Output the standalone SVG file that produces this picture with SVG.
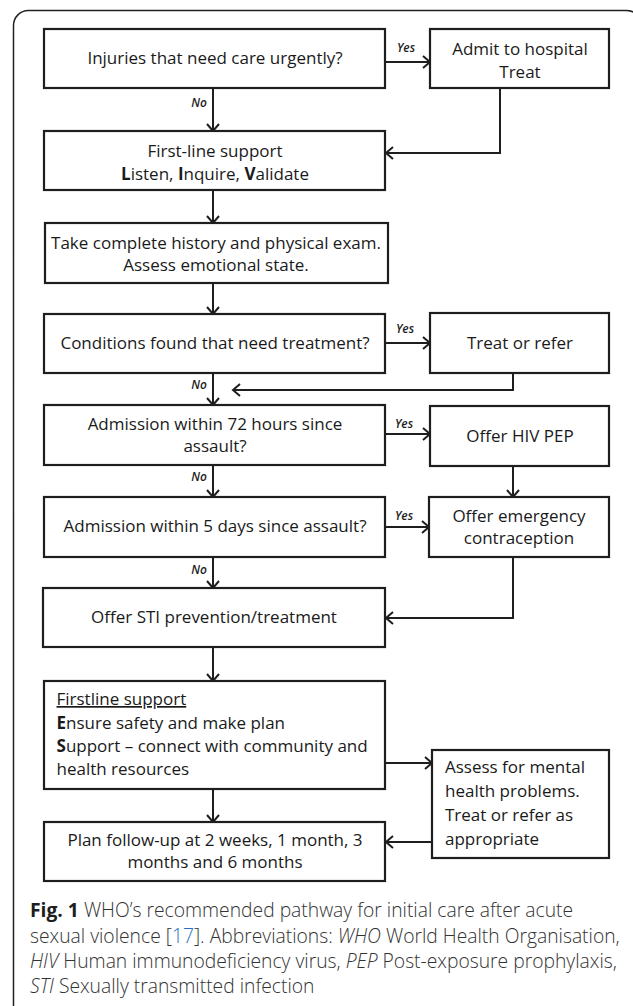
<svg xmlns="http://www.w3.org/2000/svg" width="633" height="1006" viewBox="0 0 633 1006">
<defs>
<style>
.box{fill:#fff;stroke:#1e1e1e;stroke-width:2.2}
.t{font-family:"Open Sans","Noto Sans","DejaVu Sans",sans-serif;font-size:17px;fill:#1a1a1a;text-anchor:middle}
.tl{font-family:"Open Sans","Noto Sans","DejaVu Sans",sans-serif;font-size:17px;fill:#1a1a1a;text-anchor:start}
.lab{font-family:"Open Sans","Noto Sans","DejaVu Sans",sans-serif;font-size:12px;font-style:italic;font-weight:600;fill:#1e1e1e}
.c{fill:none;stroke:#1e1e1e;stroke-width:2}
.cap{font-family:"Open Sans","Noto Sans","DejaVu Sans",sans-serif;font-size:19.3px;font-weight:300;fill:#333}
</style>
<marker id="ah" viewBox="0 0 9 14" refX="8" refY="7" markerWidth="9" markerHeight="14" markerUnits="userSpaceOnUse" orient="auto" overflow="visible">
<path d="M1,1 L8,7 L1,13" fill="none" stroke="#1e1e1e" stroke-width="2"/>
</marker>
</defs>
<rect x="0" y="0" width="633" height="1006" fill="#fff"/>
<rect x="13.5" y="10.5" width="628" height="1020" rx="15" fill="none" stroke="#222" stroke-width="1.5"/>

<g id="connectors">
<line class="c" x1="386" y1="62" x2="430" y2="62" marker-end="url(#ah)"/>
<line class="c" x1="213" y1="88" x2="213" y2="131" marker-end="url(#ah)"/>
<polyline class="c" points="500,88 500,153 386,153" marker-end="url(#ah)"/>
<line class="c" x1="213" y1="190" x2="213" y2="223" marker-end="url(#ah)"/>
<line class="c" x1="213" y1="283" x2="213" y2="314" marker-end="url(#ah)"/>
<line class="c" x1="386" y1="343" x2="430" y2="343" marker-end="url(#ah)"/>
<polyline class="c" points="513,373 513,390 233,390" marker-end="url(#ah)"/>
<line class="c" x1="213" y1="373" x2="213" y2="405" marker-end="url(#ah)"/>
<line class="c" x1="386" y1="434" x2="430" y2="434" marker-end="url(#ah)"/>
<line class="c" x1="513" y1="466" x2="513" y2="497" marker-end="url(#ah)"/>
<line class="c" x1="213" y1="465" x2="213" y2="497" marker-end="url(#ah)"/>
<line class="c" x1="386" y1="527" x2="429" y2="527" marker-end="url(#ah)"/>
<line class="c" x1="213" y1="557" x2="213" y2="588" marker-end="url(#ah)"/>
<polyline class="c" points="513,557 513,618 386,618" marker-end="url(#ah)"/>
<line class="c" x1="213" y1="647" x2="213" y2="681" marker-end="url(#ah)"/>
<line class="c" x1="386" y1="763" x2="432" y2="763" marker-end="url(#ah)"/>
<line class="c" x1="213" y1="789" x2="213" y2="822" marker-end="url(#ah)"/>
<line class="c" x1="432" y1="842" x2="386" y2="842" marker-end="url(#ah)"/>
<text class="lab" x="406" y="52" text-anchor="middle">Yes</text>
<text class="lab" x="207" y="107" text-anchor="end">No</text>
<text class="lab" x="405" y="333" text-anchor="middle">Yes</text>
<text class="lab" x="207" y="389" text-anchor="end">No</text>
<text class="lab" x="404" y="428" text-anchor="middle">Yes</text>
<text class="lab" x="207" y="481" text-anchor="end">No</text>
<text class="lab" x="404" y="520" text-anchor="middle">Yes</text>
<text class="lab" x="207" y="574" text-anchor="end">No</text>
</g>

<g id="n1"><rect class="box" x="44" y="29" width="341" height="59"/>
<text class="t" x="215" y="64">Injuries that need care urgently?</text></g>
<g id="n2"><rect class="box" x="430" y="29" width="179" height="59"/>
<text class="t" x="520" y="55">Admit to hospital</text><text class="t" x="520" y="78">Treat</text></g>
<g id="n3"><rect class="box" x="44" y="131" width="341" height="59"/>
<text class="t" x="215" y="157">First-line support</text>
<text class="t" x="215" y="180"><tspan font-weight="bold">L</tspan>isten, <tspan font-weight="bold">I</tspan>nquire, <tspan font-weight="bold">V</tspan>alidate</text></g>
<g id="n4"><rect class="box" x="45" y="223" width="343" height="60"/>
<text class="t" x="216" y="249">Take complete history and physical exam.</text>
<text class="t" x="216" y="271">Assess emotional state.</text></g>
<g id="n5"><rect class="box" x="44" y="314" width="341" height="59"/>
<text class="t" x="215" y="349">Conditions found that need treatment?</text></g>
<g id="n6"><rect class="box" x="430" y="313" width="179" height="60"/>
<text class="t" x="520" y="349">Treat or refer</text></g>
<g id="n7"><rect class="box" x="44" y="405" width="341" height="60"/>
<text class="t" x="215" y="430">Admission within 72 hours since</text>
<text class="t" x="215" y="452">assault?</text></g>
<g id="n8"><rect class="box" x="430" y="406" width="179" height="60"/>
<text class="t" x="520" y="442">Offer HIV PEP</text></g>
<g id="n9"><rect class="box" x="44" y="497" width="341" height="60"/>
<text class="t" x="215" y="532">Admission within 5 days since assault?</text></g>
<g id="n10"><rect class="box" x="429" y="497" width="180" height="60"/>
<text class="t" x="519" y="522">Offer emergency</text>
<text class="t" x="519" y="544">contraception</text></g>
<g id="n11"><rect class="box" x="43" y="588" width="342" height="59"/>
<text class="t" x="214" y="623">Offer STI prevention/treatment</text></g>
<g id="n12"><rect class="box" x="44" y="681" width="341" height="108"/>
<text class="tl" x="56.5" y="705" text-decoration="underline">Firstline support</text>
<text class="tl" x="56.5" y="729"><tspan font-weight="bold">E</tspan>nsure safety and make plan</text>
<text class="tl" x="56.5" y="752"><tspan font-weight="bold">S</tspan>upport – connect with community and</text>
<text class="tl" x="56.5" y="775">health resources</text></g>
<g id="n13"><rect class="box" x="432" y="750" width="177" height="108"/>
<text class="tl" x="445" y="773">Assess for mental</text>
<text class="tl" x="445" y="797">health problems.</text>
<text class="tl" x="445" y="821">Treat or refer as</text>
<text class="tl" x="445" y="845">appropriate</text></g>
<g id="n14"><rect class="box" x="44" y="822" width="341" height="59"/>
<text class="t" x="215" y="846">Plan follow-up at 2 weeks, 1 month, 3</text>
<text class="t" x="215" y="868">months and 6 months</text></g>

<g id="caption">
<text class="cap" x="30" y="917"><tspan font-weight="bold" fill="#1e1e1e">Fig. 1</tspan> WHO’s recommended pathway for initial care after acute</text>
<text class="cap" x="30" y="943">sexual violence [<tspan fill="#2a6ebb">17</tspan>]. Abbreviations: <tspan font-style="italic">WHO</tspan> World Health Organisation,</text>
<text class="cap" x="30" y="968"><tspan font-style="italic">HIV</tspan> Human immunodeficiency virus, <tspan font-style="italic">PEP</tspan> Post-exposure prophylaxis,</text>
<text class="cap" x="30" y="993"><tspan font-style="italic">STI</tspan> Sexually transmitted infection</text>
</g>
</svg>
